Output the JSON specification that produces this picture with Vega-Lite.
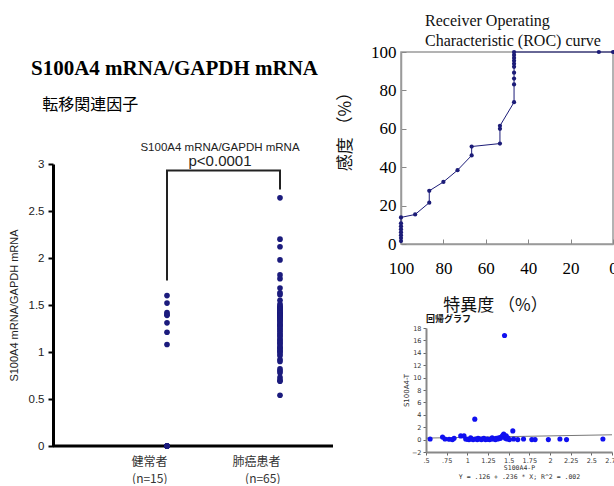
{
  "$schema": "https://vega.github.io/schema/vega-lite/v6.json",
  "padding": {"left": 8, "top": 12, "right": 0, "bottom": 0},
  "spacing": 0,
  "bounds": "full",
  "config": {"view": {"stroke": null}, "axis": {"grid": false, "labelOverlap": false}, "font": "Liberation Sans"},
  "datasets": {
    "dots": [
      {"group": "健常者", "value": 1.60}, {"group": "健常者", "value": 1.52}, {"group": "健常者", "value": 1.42},
      {"group": "健常者", "value": 1.40}, {"group": "健常者", "value": 1.39}, {"group": "健常者", "value": 1.31},
      {"group": "健常者", "value": 1.21}, {"group": "健常者", "value": 1.08}, {"group": "健常者", "value": 0},
      {"group": "健常者", "value": 0}, {"group": "健常者", "value": 0}, {"group": "健常者", "value": 0},
      {"group": "健常者", "value": 0}, {"group": "健常者", "value": 0}, {"group": "健常者", "value": 0},
      {"group": "肺癌患者", "value": 2.64}, {"group": "肺癌患者", "value": 2.20}, {"group": "肺癌患者", "value": 2.12},
      {"group": "肺癌患者", "value": 1.98}, {"group": "肺癌患者", "value": 1.82}, {"group": "肺癌患者", "value": 1.78},
      {"group": "肺癌患者", "value": 1.68}, {"group": "肺癌患者", "value": 1.63}, {"group": "肺癌患者", "value": 1.61},
      {"group": "肺癌患者", "value": 1.55}, {"group": "肺癌患者", "value": 1.51}, {"group": "肺癌患者", "value": 1.49},
      {"group": "肺癌患者", "value": 1.48}, {"group": "肺癌患者", "value": 1.47}, {"group": "肺癌患者", "value": 1.46},
      {"group": "肺癌患者", "value": 1.45}, {"group": "肺癌患者", "value": 1.44}, {"group": "肺癌患者", "value": 1.43},
      {"group": "肺癌患者", "value": 1.42}, {"group": "肺癌患者", "value": 1.41}, {"group": "肺癌患者", "value": 1.41},
      {"group": "肺癌患者", "value": 1.40}, {"group": "肺癌患者", "value": 1.395}, {"group": "肺癌患者", "value": 1.39},
      {"group": "肺癌患者", "value": 1.39}, {"group": "肺癌患者", "value": 1.385}, {"group": "肺癌患者", "value": 1.38},
      {"group": "肺癌患者", "value": 1.37}, {"group": "肺癌患者", "value": 1.36}, {"group": "肺癌患者", "value": 1.35},
      {"group": "肺癌患者", "value": 1.34}, {"group": "肺癌患者", "value": 1.33}, {"group": "肺癌患者", "value": 1.32},
      {"group": "肺癌患者", "value": 1.30}, {"group": "肺癌患者", "value": 1.29}, {"group": "肺癌患者", "value": 1.28},
      {"group": "肺癌患者", "value": 1.27}, {"group": "肺癌患者", "value": 1.25}, {"group": "肺癌患者", "value": 1.24},
      {"group": "肺癌患者", "value": 1.22}, {"group": "肺癌患者", "value": 1.20}, {"group": "肺癌患者", "value": 1.18},
      {"group": "肺癌患者", "value": 1.17}, {"group": "肺癌患者", "value": 1.15}, {"group": "肺癌患者", "value": 1.13},
      {"group": "肺癌患者", "value": 1.12}, {"group": "肺癌患者", "value": 1.10}, {"group": "肺癌患者", "value": 1.09},
      {"group": "肺癌患者", "value": 1.07}, {"group": "肺癌患者", "value": 1.05}, {"group": "肺癌患者", "value": 1.04},
      {"group": "肺癌患者", "value": 1.02}, {"group": "肺癌患者", "value": 1.01}, {"group": "肺癌患者", "value": 1.00},
      {"group": "肺癌患者", "value": 0.98}, {"group": "肺癌患者", "value": 0.96}, {"group": "肺癌患者", "value": 0.92},
      {"group": "肺癌患者", "value": 0.90}, {"group": "肺癌患者", "value": 0.82}, {"group": "肺癌患者", "value": 0.80},
      {"group": "肺癌患者", "value": 0.78}, {"group": "肺癌患者", "value": 0.73}, {"group": "肺癌患者", "value": 0.70},
      {"group": "肺癌患者", "value": 0.69}, {"group": "肺癌患者", "value": 0.54}
    ],
    "bracket": [
      {"group": "健常者", "value": 1.76}, {"group": "健常者", "value": 2.93},
      {"group": "肺癌患者", "value": 2.93}, {"group": "肺癌患者", "value": 2.73}
    ],
    "roc": [
      {"spec": 100, "sens": 1.54}, {"spec": 100, "sens": 3.08}, {"spec": 100, "sens": 4.62}, {"spec": 100, "sens": 6.15},
      {"spec": 100, "sens": 7.69}, {"spec": 100, "sens": 9.23}, {"spec": 100, "sens": 10.77}, {"spec": 100, "sens": 13.85},
      {"spec": 93.33, "sens": 15.38}, {"spec": 86.67, "sens": 21.54}, {"spec": 86.67, "sens": 27.69},
      {"spec": 80, "sens": 32.31}, {"spec": 73.33, "sens": 38.46}, {"spec": 66.67, "sens": 46.15},
      {"spec": 66.67, "sens": 50.77}, {"spec": 53.33, "sens": 52.31}, {"spec": 53.33, "sens": 60.0},
      {"spec": 53.33, "sens": 61.54}, {"spec": 46.67, "sens": 73.85}, {"spec": 46.67, "sens": 83.08},
      {"spec": 46.67, "sens": 86.15}, {"spec": 46.67, "sens": 89.23}, {"spec": 46.67, "sens": 92.31},
      {"spec": 46.67, "sens": 93.85}, {"spec": 46.67, "sens": 95.38}, {"spec": 46.67, "sens": 96.92},
      {"spec": 46.67, "sens": 98.46}, {"spec": 46.67, "sens": 100}, {"spec": 6.67, "sens": 100}, {"spec": 0, "sens": 100}
    ],
    "reg": [
      {"p": 0.55, "t": 0.1}, {"p": 0.70, "t": 0.4}, {"p": 0.73, "t": 0.1}, {"p": 0.78, "t": 0.05},
      {"p": 0.82, "t": 0.0}, {"p": 0.84, "t": 0.2}, {"p": 0.92, "t": 0.6}, {"p": 0.96, "t": 0.6},
      {"p": 0.98, "t": 0.1}, {"p": 1.00, "t": 0.05}, {"p": 1.02, "t": 0.0}, {"p": 1.04, "t": 0.3},
      {"p": 1.05, "t": 0.1}, {"p": 1.07, "t": 0.0}, {"p": 1.09, "t": 3.3}, {"p": 1.10, "t": 0.1},
      {"p": 1.12, "t": 0.0}, {"p": 1.13, "t": 0.2}, {"p": 1.15, "t": 0.1}, {"p": 1.17, "t": 0.0},
      {"p": 1.18, "t": 0.1}, {"p": 1.20, "t": 0.2}, {"p": 1.22, "t": 0.0}, {"p": 1.24, "t": 0.1},
      {"p": 1.25, "t": 0.05}, {"p": 1.27, "t": 0.0}, {"p": 1.29, "t": 0.1}, {"p": 1.30, "t": 0.3},
      {"p": 1.32, "t": 0.1}, {"p": 1.34, "t": 0.0}, {"p": 1.35, "t": 0.2}, {"p": 1.37, "t": 0.1},
      {"p": 1.38, "t": 0.3}, {"p": 1.40, "t": 0.2}, {"p": 1.41, "t": 0.4}, {"p": 1.42, "t": 0.5},
      {"p": 1.43, "t": 0.7}, {"p": 1.44, "t": 0.9}, {"p": 1.45, "t": 16.8}, {"p": 1.46, "t": 0.2},
      {"p": 1.47, "t": 0.6}, {"p": 1.48, "t": 0.1}, {"p": 1.49, "t": 0.3}, {"p": 1.51, "t": 0.0},
      {"p": 1.55, "t": 1.4}, {"p": 1.56, "t": 0.1}, {"p": 1.61, "t": 0.0}, {"p": 1.68, "t": 0.1},
      {"p": 1.78, "t": 0.0}, {"p": 1.82, "t": 0.0}, {"p": 1.98, "t": 0.0}, {"p": 2.12, "t": 0.1},
      {"p": 2.20, "t": 0.0}, {"p": 2.64, "t": 0.1}
    ],
    "fit": [{"p": 0.5, "t": 0.244}, {"p": 2.75, "t": 0.775}]
  },
  "hconcat": [
    {
      "spacing": 28,
      "vconcat": [
        {
          "width": 280, "height": 1,
          "data": {"values": [{}]},
          "mark": {"type": "text", "text": ""},
          "title": {
            "text": "S100A4 mRNA/GAPDH mRNA", "orient": "bottom",
            "font": "Liberation Serif", "fontSize": 21, "fontWeight": "bold",
            "anchor": "start", "frame": "group", "dx": -22, "offset": 0, "color": "#000",
            "subtitle": "\u200b\u2002\u2009転移関連因子", "subtitleFont": "Noto Sans CJK JP", "subtitleFontSize": 16,
            "subtitleColor": "#000", "subtitlePadding": 18
          }
        },
        {
          "width": 280, "height": 282,
          "title": {
            "text": "S100A4 mRNA/GAPDH mRNA", "font": "Liberation Sans", "fontSize": 11.5, "fontWeight": "normal",
            "subtitle": "p<0.0001", "subtitleFont": "Liberation Sans", "subtitleFontSize": 15, "subtitlePadding": 1,
            "anchor": "middle", "frame": "group", "dx": 27, "offset": -11, "color": "#222", "subtitleColor": "#222"
          },
          "layer": [
            {
              "data": {"values": [{}]},
              "mark": {"type": "rule", "color": "#000", "strokeWidth": 3},
              "encoding": {"y": {"datum": 0, "type": "quantitative"}}
            },
            {
              "data": {"name": "bracket"},
              "mark": {"type": "line", "color": "#222", "strokeWidth": 2},
              "encoding": {
                "x": {"field": "group", "type": "nominal"},
                "y": {"field": "value", "type": "quantitative"},
                "order": {"value": null}
              }
            },
            {
              "data": {"name": "dots"},
              "mark": {"type": "circle", "color": "#1b1b7d", "size": 32, "opacity": 1},
              "encoding": {
                "x": {
                  "field": "group", "type": "nominal",
                  "scale": {"type": "point", "domain": ["健常者", "肺癌患者"], "range": [114, 227], "padding": 0},
                  "axis": {
                    "title": null, "domain": false, "ticks": false, "labelAngle": 0,
                    "labelExpr": "datum.label == '健常者' ? ['健常者', '(n=15)'] : ['肺癌患者', '(n=65)']",
                    "labelFont": "Noto Sans CJK JP", "labelFontSize": 12, "labelLineHeight": 17,
                    "labelColor": "#333", "labelPadding": 15
                  }
                },
                "y": {
                  "field": "value", "type": "quantitative",
                  "scale": {"domain": [0, 3], "nice": false},
                  "axis": {
                    "values": [0, 0.5, 1, 1.5, 2, 2.5, 3], "format": "~g",
                    "title": "S100A4 mRNA/GAPDH mRNA", "titleFont": "Liberation Sans", "titleFontSize": 11,
                    "titleFontWeight": "normal", "titleColor": "#222", "titlePadding": 9,
                    "domainColor": "#000", "domainWidth": 3, "tickColor": "#000", "tickWidth": 2, "tickSize": 5,
                    "labelFont": "Liberation Sans", "labelFontSize": 11.5, "labelColor": "#222", "labelPadding": 4
                  }
                }
              }
            }
          ]
        }
      ]
    },
    {
      "vconcat": [
        {
          "width": 212, "height": 192,
          "data": {"name": "roc"},
          "view": {"stroke": "#9a9a9a", "strokeWidth": 1.5},
          "title": {
            "text": ["Receiver Operating", "Characteristic (ROC) curve"],
            "font": "Liberation Serif", "fontSize": 16, "fontWeight": "normal", "lineHeight": 20,
            "anchor": "start", "frame": "group", "dx": 24, "offset": -6, "color": "#111"
          },
          "encoding": {
            "x": {
              "field": "spec", "type": "quantitative",
              "scale": {"domain": [100, 0], "nice": false},
              "axis": {
                "values": [100, 80, 60, 40, 20, 0], "labelFlush": false,
                "title": "特異度 （%）", "titleFont": "Noto Sans CJK JP", "titleFontSize": 17,
                "titleFontWeight": "normal", "titleColor": "#111", "titlePadding": 21, "titleX": 94,
                "labelFont": "Liberation Serif", "labelFontSize": 17, "labelColor": "#000", "labelPadding": 21,
                "tickSize": -5, "tickColor": "#888", "domainColor": "#9a9a9a", "domainWidth": 1.5
              }
            },
            "y": {
              "field": "sens", "type": "quantitative",
              "scale": {"domain": [0, 100], "nice": false},
              "axis": {
                "values": [0, 20, 40, 60, 80, 100],
                "title": "感度 （%）", "titleFont": "Noto Sans CJK JP", "titleFontSize": 17,
                "titleFontWeight": "normal", "titleColor": "#111", "titlePadding": 16, "titleY": 75,
                "labelFont": "Liberation Serif", "labelFontSize": 17, "labelColor": "#000", "labelPadding": 10,
                "tickSize": -5, "tickColor": "#888", "domainColor": "#9a9a9a", "domainWidth": 1.5
              }
            }
          },
          "layer": [
            {"mark": {"type": "line", "color": "#1c1c78", "strokeWidth": 1}, "encoding": {"order": {"value": null}}},
            {"mark": {"type": "circle", "color": "#1c1c78", "size": 18, "opacity": 1}}
          ]
        },
        {
          "width": 211, "height": 124,
          "title": {
            "text": "回帰グラフ", "font": "Noto Sans CJK JP", "fontSize": 9, "fontWeight": "bold",
            "anchor": "start", "frame": "group", "dx": 25, "offset": 1, "color": "#111"
          },
          "encoding": {
            "x": {
              "field": "p", "type": "quantitative",
              "scale": {"domain": [0.5, 2.75], "range": [25, 211], "nice": false, "zero": false},
              "axis": {
                "values": [0.5, 0.75, 1, 1.25, 1.5, 1.75, 2, 2.25, 2.5, 2.75], "labelFlush": false,
                "labelOverlap": false,
                "labelExpr": "replace(format(datum.value, '~g'), '0.', '.')",
                "title": ["S100A4-P", "Y = .126 + .236 * X; R^2 = .002"], "titleFont": "DejaVu Sans Mono",
                "titleFontSize": 6.5, "titleFontWeight": "normal", "titleLineHeight": 9,
                "titlePadding": 1, "titleColor": "#333",
                "labelFont": "DejaVu Sans", "labelFontSize": 6.5, "labelColor": "#333", "labelPadding": 2,
                "tickSize": 3, "tickColor": "#666", "domainColor": "#888", "domainWidth": 2
              }
            },
            "y": {
              "field": "t", "type": "quantitative",
              "scale": {"domain": [-2, 18], "nice": false, "zero": false},
              "axis": {
                "values": [-2, 0, 2, 4, 6, 8, 10, 12, 14, 16, 18], "offset": -25,
                "labelOverlap": false,
                "title": "S100A4-T", "titleFont": "DejaVu Sans", "titleFontSize": 7, "titleFontWeight": "normal",
                "titlePadding": 2, "titleColor": "#333",
                "labelFont": "DejaVu Sans", "labelFontSize": 6.5, "labelColor": "#333", "labelPadding": 2,
                "tickSize": 3, "tickColor": "#666", "domainColor": "#888", "domainWidth": 2
              }
            }
          },
          "layer": [
            {
              "data": {"name": "fit"},
              "mark": {"type": "line", "color": "#777", "strokeWidth": 1}
            },
            {
              "data": {"values": [{}]},
              "mark": {"type": "rule", "color": "#888", "strokeWidth": 1, "strokeDash": [2, 2]},
              "encoding": {"x": {"datum": 0.5}, "x2": {"datum": 2.75}, "y": {"datum": 0}}
            },
            {
              "data": {"values": [{}]},
              "mark": {"type": "rule", "color": "#999", "strokeWidth": 2},
              "encoding": {"x": {"datum": 0.5}, "x2": {"datum": 2.75}, "y": {"datum": 18}}
            },
            {
              "data": {"values": [{}]},
              "mark": {"type": "rule", "color": "#999", "strokeWidth": 2},
              "encoding": {"x": {"datum": 2.75}, "y": {"datum": -2}, "y2": {"datum": 18}}
            },
            {
              "data": {"name": "reg"},
              "mark": {"type": "circle", "color": "#1010f0", "size": 26, "opacity": 1}
            }
          ]
        }
      ],
      "spacing": 84,
      "bounds": "flush"
    }
  ]
}
